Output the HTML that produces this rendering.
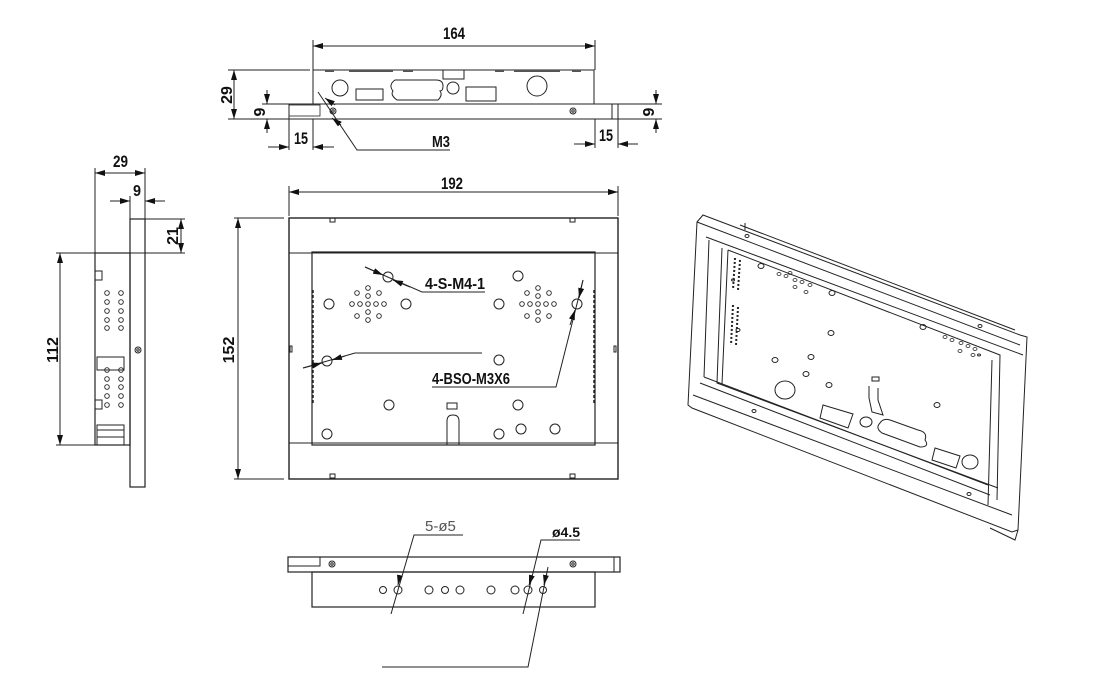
<!DOCTYPE html>
<html><head><meta charset="utf-8"><style>
html,body{margin:0;padding:0;background:#fff;}
svg{display:block}
text{font-family:"Liberation Sans",sans-serif;font-weight:bold;fill:#111}
</style></head><body>
<svg width="1100" height="690" viewBox="0 0 1100 690" xmlns="http://www.w3.org/2000/svg">
<defs>
<marker id="a" viewBox="0 0 10 6" refX="10" refY="3" markerWidth="10" markerHeight="6" orient="auto-start-reverse" markerUnits="userSpaceOnUse"><path d="M0,0L10,3L0,6z" fill="#111"/></marker>
</defs>
<g stroke="#222" stroke-width="1" fill="none">
<!-- TOP VIEW -->
<line x1="313" y1="46" x2="595" y2="46" marker-start="url(#a)" marker-end="url(#a)"/>
<line x1="313" y1="40" x2="313" y2="70"/><line x1="595" y1="40" x2="595" y2="70"/>
<rect x="313" y="70" width="281" height="34"/>
<rect x="289" y="104" width="329" height="15"/>
<rect x="289" y="105" width="31" height="11" stroke-width="0.8"/>
<line x1="612" y1="104" x2="612" y2="119"/>
<circle cx="333" cy="111" r="3"/><circle cx="333" cy="111" r="1.2"/>
<circle cx="573" cy="111" r="3"/><circle cx="573" cy="111" r="1.2"/>
<circle cx="340" cy="88" r="8"/>
<rect x="356" y="89" width="27" height="11"/>
<path d="M395,80 H436 Q443,80 443,86 Q443,91 440,91 Q443,95 438,100 H397 Q390,95 393,91 Q388,85 395,80z"/>
<circle cx="453" cy="88" r="6"/>
<rect x="466" y="87" width="30" height="14"/>
<circle cx="537" cy="86" r="10"/>
<rect x="443" y="70" width="21" height="9"/>
<g stroke-width="2" stroke="#555">
<line x1="325" y1="71" x2="334" y2="71"/><line x1="349" y1="71" x2="393" y2="71"/><line x1="403" y1="71" x2="413" y2="71"/>
<line x1="495" y1="71" x2="504" y2="71"/><line x1="514" y1="71" x2="560" y2="71"/><line x1="572" y1="71" x2="581" y2="71"/>
</g>
<line x1="234" y1="70" x2="234" y2="119" marker-start="url(#a)" marker-end="url(#a)"/>
<line x1="228" y1="70" x2="310" y2="70"/><line x1="228" y1="119" x2="289" y2="119"/>
<line x1="267" y1="90" x2="267" y2="104" marker-end="url(#a)"/><line x1="267" y1="133" x2="267" y2="119" marker-end="url(#a)"/>
<line x1="262" y1="104" x2="289" y2="104"/>
<line x1="656" y1="90" x2="656" y2="104" marker-end="url(#a)"/><line x1="656" y1="133" x2="656" y2="119" marker-end="url(#a)"/>
<line x1="618" y1="104" x2="662" y2="104"/><line x1="618" y1="119" x2="662" y2="119"/>
<line x1="289" y1="119" x2="289" y2="150"/><line x1="313" y1="119" x2="313" y2="150"/>
<line x1="268" y1="147" x2="289" y2="147" marker-end="url(#a)"/><line x1="334" y1="147" x2="313" y2="147" marker-end="url(#a)"/>
<line x1="595" y1="119" x2="595" y2="148"/><line x1="618" y1="119" x2="618" y2="148"/>
<line x1="574" y1="144" x2="595" y2="144" marker-end="url(#a)"/><line x1="638" y1="144" x2="618" y2="144" marker-end="url(#a)"/>
<path d="M318,92 L357,150 H450"/>
<line x1="335" y1="105" x2="325" y2="98" marker-end="url(#a)"/>
<line x1="332" y1="118" x2="341" y2="125" marker-start="url(#a)"/>
<!-- FRONT VIEW -->
<line x1="289" y1="192" x2="618" y2="192" marker-start="url(#a)" marker-end="url(#a)"/>
<line x1="289" y1="186" x2="289" y2="216"/><line x1="618" y1="186" x2="618" y2="216"/>
<rect x="289" y="218" width="329" height="261" stroke-width="1.4"/>
<line x1="289" y1="253" x2="618" y2="253"/><line x1="289" y1="443" x2="618" y2="443"/>
<rect x="312" y="252" width="283" height="193" stroke-width="1.2"/>
<line x1="238" y1="218" x2="238" y2="479" marker-start="url(#a)" marker-end="url(#a)"/>
<line x1="234" y1="218" x2="284" y2="218"/><line x1="234" y1="479" x2="284" y2="479"/>
<rect x="330" y="218" width="5" height="4"/><rect x="570" y="218" width="5" height="4"/>
<rect x="330" y="474" width="5" height="4"/><rect x="570" y="474" width="5" height="4"/>
<rect x="290" y="346" width="2" height="6"/><rect x="614" y="346" width="2" height="6"/>
<line x1="313" y1="290" x2="313" y2="405" stroke-dasharray="3,2" stroke-width="1.5"/>
<line x1="594" y1="290" x2="594" y2="405" stroke-dasharray="3,2" stroke-width="1.5"/>
<g>
<circle cx="329" cy="304" r="5"/><circle cx="406" cy="304" r="5"/><circle cx="388" cy="277" r="5"/>
<circle cx="518" cy="276" r="5"/><circle cx="499" cy="304" r="5"/><circle cx="577" cy="304" r="5"/>
<circle cx="327" cy="361" r="5"/><circle cx="499" cy="360" r="5"/><circle cx="389" cy="405" r="5"/>
<circle cx="518" cy="405" r="5"/><circle cx="327" cy="434" r="5"/><circle cx="499" cy="434" r="5"/>
<circle cx="521" cy="429" r="5"/><circle cx="555" cy="429" r="5"/>
</g>
<g stroke-width="0.9">
<circle cx="352" cy="304" r="2.3"/><circle cx="360" cy="304" r="2.3"/><circle cx="368" cy="304" r="2.3"/><circle cx="376" cy="304" r="2.3"/><circle cx="384" cy="304" r="2.3"/>
<circle cx="368" cy="288" r="2.3"/><circle cx="368" cy="296" r="2.3"/><circle cx="368" cy="312" r="2.3"/><circle cx="368" cy="320" r="2.3"/>
<circle cx="357" cy="293" r="2.3"/><circle cx="379" cy="293" r="2.3"/><circle cx="357" cy="316" r="2.3"/><circle cx="379" cy="316" r="2.3"/>
<circle cx="522" cy="304" r="2.3"/><circle cx="530" cy="304" r="2.3"/><circle cx="538" cy="304" r="2.3"/><circle cx="546" cy="304" r="2.3"/><circle cx="554" cy="304" r="2.3"/>
<circle cx="538" cy="288" r="2.3"/><circle cx="538" cy="296" r="2.3"/><circle cx="538" cy="312" r="2.3"/><circle cx="538" cy="320" r="2.3"/>
<circle cx="527" cy="293" r="2.3"/><circle cx="549" cy="293" r="2.3"/><circle cx="527" cy="316" r="2.3"/><circle cx="549" cy="316" r="2.3"/>
</g>
<rect x="447" y="403" width="10" height="6"/>
<path d="M447,445 V421 Q447,415 453,415 Q459,415 459,421 V445"/>
<path d="M365,267 L422,292 H485"/>
<line x1="365" y1="267" x2="383" y2="275" marker-end="url(#a)"/><line x1="410" y1="287" x2="393" y2="280" marker-end="url(#a)"/>
<path d="M303,368 L355,353 H482"/>
<line x1="303" y1="368" x2="322" y2="363" marker-end="url(#a)"/><line x1="345" y1="356" x2="332" y2="360" marker-end="url(#a)"/>
<path d="M583,280 L556,387 H432"/>
<line x1="583" y1="280" x2="579" y2="298" marker-end="url(#a)"/><line x1="570" y1="325" x2="575" y2="310" marker-end="url(#a)"/>
<!-- SIDE VIEW -->
<rect x="130" y="219" width="15" height="268" stroke-width="1.2"/>
<rect x="95" y="253" width="35" height="192" stroke-width="1.2"/>
<circle cx="138" cy="350" r="3"/><circle cx="138" cy="350" r="1.2"/>
<rect x="95" y="271" width="7" height="9"/><rect x="95" y="400" width="7" height="9"/>
<rect x="97" y="357" width="27" height="13"/>
<rect x="97" y="425" width="27" height="20"/>
<line x1="97" y1="430" x2="124" y2="430"/><line x1="97" y1="437" x2="124" y2="437"/>
<g stroke-width="0.9">
<circle cx="107" cy="293" r="2.3"/><circle cx="107" cy="302" r="2.3"/><circle cx="107" cy="311" r="2.3"/><circle cx="107" cy="320" r="2.3"/><circle cx="107" cy="328" r="2.3"/>
<circle cx="121" cy="293" r="2.3"/><circle cx="121" cy="302" r="2.3"/><circle cx="121" cy="311" r="2.3"/><circle cx="121" cy="320" r="2.3"/><circle cx="121" cy="328" r="2.3"/>
<circle cx="107" cy="370" r="2.3"/><circle cx="107" cy="379" r="2.3"/><circle cx="107" cy="387" r="2.3"/><circle cx="107" cy="396" r="2.3"/><circle cx="107" cy="405" r="2.3"/>
<circle cx="121" cy="370" r="2.3"/><circle cx="121" cy="379" r="2.3"/><circle cx="121" cy="387" r="2.3"/><circle cx="121" cy="396" r="2.3"/><circle cx="121" cy="405" r="2.3"/>
</g>
<line x1="95" y1="173" x2="145" y2="173" marker-start="url(#a)" marker-end="url(#a)"/>
<line x1="95" y1="168" x2="95" y2="253"/><line x1="145" y1="168" x2="145" y2="219"/>
<line x1="110" y1="201" x2="130" y2="201" marker-end="url(#a)"/><line x1="165" y1="201" x2="145" y2="201" marker-end="url(#a)"/>
<line x1="130" y1="196" x2="130" y2="219"/>
<line x1="181" y1="219" x2="181" y2="253" marker-start="url(#a)" marker-end="url(#a)"/>
<line x1="145" y1="219" x2="185" y2="219"/><line x1="130" y1="253" x2="185" y2="253"/>
<line x1="60" y1="253" x2="60" y2="445" marker-start="url(#a)" marker-end="url(#a)"/>
<line x1="56" y1="253" x2="95" y2="253"/><line x1="56" y1="445" x2="95" y2="445"/>
<!-- BOTTOM VIEW -->
<rect x="288" y="557" width="332" height="15" stroke-width="1.2"/>
<path d="M288,566 H320 V557"/>
<line x1="614" y1="557" x2="614" y2="572"/>
<circle cx="332" cy="564" r="3"/><circle cx="332" cy="564" r="1.2"/>
<circle cx="573" cy="564" r="3"/><circle cx="573" cy="564" r="1.2"/>
<rect x="312" y="572" width="283" height="35" stroke-width="1.2"/>
<g>
<circle cx="383" cy="590" r="3.5"/><circle cx="398" cy="590" r="4"/><circle cx="429" cy="590" r="4"/><circle cx="445" cy="590" r="3.5"/><circle cx="460" cy="590" r="4"/>
<circle cx="491" cy="590" r="4"/><circle cx="515" cy="590" r="4"/><circle cx="528" cy="590" r="4"/><circle cx="543" cy="590" r="3.5"/>
</g>
<path d="M463,535 H414 L391,614"/>
<line x1="400" y1="575" x2="398" y2="585" marker-end="url(#a)"/>
<path d="M580,540 H541 L523,614"/>
<line x1="532" y1="575" x2="529" y2="585" marker-end="url(#a)"/>
<path d="M548,567 L528,667 H382"/>
<line x1="546" y1="575" x2="544" y2="585" marker-end="url(#a)"/>
<!-- ISO VIEW -->
<g stroke-width="1">
<path d="M703,215 L697,222 L688,405 L692,408 L1012,532 L1018,530 L1027,337 L1020,335 Z"/>
<path d="M697,222 L1020,345"/>
<path d="M706,237 L1023,355"/>
<path d="M740,225 L1015,330"/>
<path d="M745,223 L745,230"/>
<path d="M709,240 L704,377"/>
<path d="M722,248 L717,383 L998,488"/>
<path d="M728,250 L722,384"/>
<path d="M728,250 L1000,355 L997,500"/>
<path d="M992,360 L988,505"/>
<path d="M704,377 L988,485"/>
<path d="M700,383 L990,495"/>
<path d="M693,395 L1012,515"/>
<path d="M1018,530 L1015,540 L990,528"/>
<ellipse cx="761" cy="266" rx="3" ry="2.5"/><ellipse cx="832" cy="293" rx="3" ry="2.5"/>
<ellipse cx="831" cy="333" rx="3" ry="2.5"/><ellipse cx="923" cy="327" rx="3" ry="2.5"/>
<ellipse cx="775" cy="360" rx="3" ry="2.5"/><ellipse cx="811" cy="357" rx="3" ry="2.5"/>
<ellipse cx="806" cy="374" rx="3" ry="2.5"/><ellipse cx="829" cy="385" rx="3" ry="2.5"/>
<ellipse cx="937" cy="405" rx="3" ry="2.5"/>
<ellipse cx="785" cy="390" rx="10" ry="9"/>
<ellipse cx="866" cy="422" rx="6" ry="5"/>
<ellipse cx="970" cy="462" rx="8" ry="7"/>
<path d="M823,405 L853,414 L848,428 L820,418z"/>
<path d="M935,448 L960,456 L956,468 L932,460z"/>
<path d="M880,423 Q875,428 882,433 L920,447 Q930,447 925,440 Q928,432 918,430 L890,420 Q883,418 880,423z"/>
<path d="M869,386 V398 L872,412 L883,415 L878,400 V388"/>
<rect x="872" y="377" width="7" height="4"/>
<ellipse cx="738" cy="330" rx="2" ry="1.5"/>
<ellipse cx="733" cy="280" rx="1.5" ry="1"/>
<ellipse cx="979" cy="355" rx="1.5" ry="1"/>
<ellipse cx="754" cy="411" rx="2" ry="1.5"/><ellipse cx="969" cy="494" rx="2" ry="1.5"/>
<ellipse cx="747" cy="236" rx="2" ry="1.5"/><ellipse cx="980" cy="326" rx="2" ry="1.5"/>
</g>
<g stroke-width="0.8">
<ellipse cx="779" cy="274" rx="2" ry="1.5"/><ellipse cx="786" cy="276" rx="2" ry="1.5"/><ellipse cx="795" cy="280" rx="2" ry="1.5"/><ellipse cx="802" cy="282" rx="2" ry="1.5"/><ellipse cx="810" cy="285" rx="2" ry="1.5"/>
<ellipse cx="790" cy="273" rx="2" ry="1.5"/><ellipse cx="795" cy="287" rx="2" ry="1.5"/><ellipse cx="806" cy="292" rx="2" ry="1.5"/>
<ellipse cx="945" cy="337" rx="2" ry="1.5"/><ellipse cx="952" cy="340" rx="2" ry="1.5"/><ellipse cx="961" cy="343" rx="2" ry="1.5"/><ellipse cx="968" cy="346" rx="2" ry="1.5"/><ellipse cx="975" cy="349" rx="2" ry="1.5"/>
<ellipse cx="960" cy="351" rx="2" ry="1.5"/><ellipse cx="973" cy="355" rx="2" ry="1.5"/>
<line x1="735" y1="258" x2="733" y2="290" stroke-dasharray="2,2" stroke-width="2"/>
<line x1="740" y1="260" x2="738" y2="290" stroke-dasharray="2,2" stroke-width="2"/>
<line x1="733" y1="305" x2="731" y2="345" stroke-dasharray="2,2" stroke-width="2"/>
<line x1="738" y1="307" x2="736" y2="345" stroke-dasharray="2,2" stroke-width="2"/>
</g>
</g>
<!-- TEXT -->
<text x="443" y="39" font-size="17" textLength="22" lengthAdjust="spacingAndGlyphs">164</text>
<text transform="translate(232,95) rotate(-90)" font-size="16" text-anchor="middle">29</text>
<text transform="translate(265,112) rotate(-90)" font-size="16" text-anchor="middle">9</text>
<text transform="translate(654,112) rotate(-90)" font-size="16" text-anchor="middle">9</text>
<text x="294" y="144" font-size="17" textLength="14" lengthAdjust="spacingAndGlyphs">15</text>
<text x="599" y="141" font-size="17" textLength="14" lengthAdjust="spacingAndGlyphs">15</text>
<text x="432" y="147" font-size="16" textLength="18" lengthAdjust="spacingAndGlyphs">M3</text>
<text x="441" y="189" font-size="17" textLength="22" lengthAdjust="spacingAndGlyphs">192</text>
<text transform="translate(234,350) rotate(-90)" font-size="16" text-anchor="middle">152</text>
<text x="113" y="167" font-size="17" textLength="15" lengthAdjust="spacingAndGlyphs">29</text>
<text x="133" y="196" font-size="16" textLength="8" lengthAdjust="spacingAndGlyphs">9</text>
<text transform="translate(178,236) rotate(-90)" font-size="16" text-anchor="middle">21</text>
<text transform="translate(58,350) rotate(-90)" font-size="16" text-anchor="middle">112</text>
<text x="425" y="289" font-size="16" textLength="60" lengthAdjust="spacingAndGlyphs">4-S-M4-1</text>
<text x="432" y="384" font-size="16" textLength="78" lengthAdjust="spacingAndGlyphs">4-BSO-M3X6</text>
<text x="425" y="531" font-size="15" style="font-weight:normal;fill:#555">5-ø5</text>
<text x="552" y="537" font-size="14">ø4.5</text>
</svg>
</body></html>
